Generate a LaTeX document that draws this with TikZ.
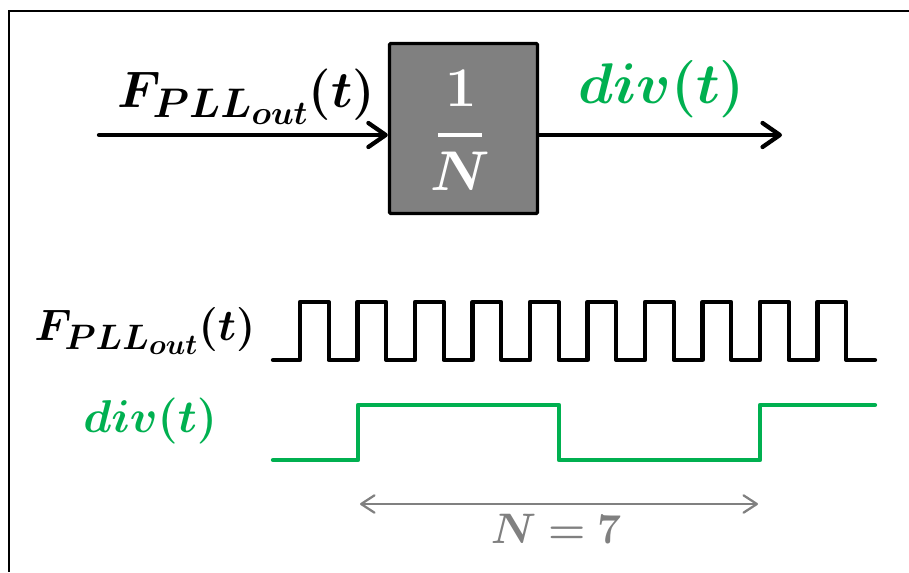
\RequirePackage{fix-cm}
\documentclass[tikz,border=0pt]{standalone}
\usepackage{amsmath,bm}
\usetikzlibrary{arrows.meta}
\definecolor{xgreen}{HTML}{00B050}
\definecolor{xgray}{HTML}{808080}
\DeclareMathSizes{38.5}{38.5}{31}{25}
\DeclareMathSizes{33}{33}{26.5}{21.5}
\begin{document}
\begin{tikzpicture}[x=0.75pt,y=-0.75pt,
  sig/.style={line width=3.2pt, line join=round, line cap=round},
  blk/.style={line width=3.2pt, line cap=round,
    -{Straight Barb[length=13pt,width=18pt,line join=round,line cap=round]}},
  gry/.style={xgray, line width=1.7pt,
    {Straight Barb[length=10pt,width=13pt,line join=round,line cap=round]}-{Straight Barb[length=10pt,width=13pt,line join=round,line cap=round]}},
  divbox/.style={draw=black, fill=xgray, line width=2.5pt, rounded corners=1pt,
    minimum width=111pt, minimum height=127.5pt, inner sep=0pt},
  lbl/.style={inner sep=0pt, anchor=base west},
  fr/.style={inner sep=0pt, text=white, font=\fontsize{42}{50}\selectfont}]
\useasboundingbox (0,0) rectangle (909,572);
% frame (clipped on right and bottom)
\draw[line width=1.8pt] (909,11) -- (9,11) -- (9,572);
% divider block
\node[divbox] (divider) at (463.5,128.5) {};
\node[fr] (num) at (461,88) {$\mathbf{1}$};
\node[fr] (den) at (460,171) {$\bm{N}$};
\draw[white, line width=3pt] (438,135) -- (482,135);
% arrows
\coordinate (inL) at (99,135);
\coordinate (outR) at (782,135);
\draw[blk] (inL) -- (inL -| divider.west);
\draw[blk] (divider.east |- outR) -- (outR);
% top labels
\node[lbl, font=\fontsize{38.5}{46}\selectfont] (fin) at (117,107) {$\bm{F_{PLL_{out}}(t)}$};
\node[lbl, text=xgreen, font=\fontsize{43}{50}\selectfont] (dout) at (578,103) {$\bm{div(t)}$};
% waveform labels
\node[lbl, font=\fontsize{33}{40}\selectfont] (fin2) at (34,340) {$\bm{F_{PLL_{out}}(t)}$};
\node[lbl, text=xgreen, font=\fontsize{34.5}{40}\selectfont] (dout2) at (83,432) {$\bm{div(t)}$};
% clock waveform
\draw[sig] (273,360)
  \foreach \k in {0,...,9}{
    -- ({300+57.5*\k},360) -- ({300+57.5*\k},302)
    -- ({328.7+57.5*\k},302) -- ({328.7+57.5*\k},360)}
  -- (875,360);
% divided waveform
\draw[sig, xgreen] (273,460) -- (358,460) -- (358,405) -- (559,405)
  -- (559,460) -- (760,460) -- (760,405) -- (875,405);
% N = 7 span
\coordinate (nL) at (360,504);
\coordinate (nR) at (758,504);
\draw[gry] (nL) -- (nR);
\node[inner sep=0pt, anchor=base, text=xgray, font=\fontsize{32}{40}\selectfont] (nlab) at (556,543) {$\bm{N=7}$};
\end{tikzpicture}
\end{document}
